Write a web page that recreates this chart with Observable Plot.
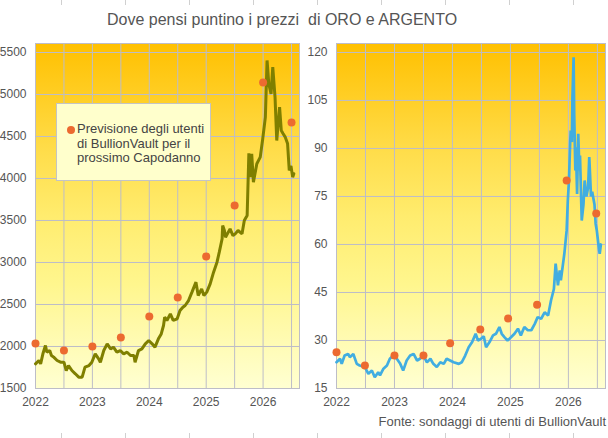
<!DOCTYPE html>
<html><head><meta charset="utf-8">
<script src="https://cdn.jsdelivr.net/npm/d3@7"></script>
<script src="https://cdn.jsdelivr.net/npm/@observablehq/plot@0.6"></script>
<style>
html,body{margin:0;padding:0;background:#fff;}
body{width:608px;height:438px;position:relative;overflow:hidden;font-family:"Liberation Sans",Arial,sans-serif;}
#title{position:absolute;left:107px;top:10px;font-size:16px;color:#555;white-space:pre;line-height:20px;}
#left{position:absolute;left:0;top:36px;}
#right{position:absolute;left:305px;top:36px;}
#legend{position:absolute;left:56px;top:103px;width:155px;height:78px;box-sizing:border-box;background:#FFFFCC;border:1px solid #c4c4c4;font-size:13px;color:#444;line-height:14.5px;padding:18px 0 0 20px;}
#legend .dot{position:absolute;left:10px;top:22px;width:8px;height:8px;border-radius:50%;background:#EC6A30;}
#caption{position:absolute;right:2px;top:414px;font-size:13px;color:#555;line-height:16px;}
.tk{position:absolute;width:1px;height:5px;background:#d0d0d0;}
</style>
</head><body>
<div id="title">Dove pensi puntino i prezzi  di ORO e ARGENTO</div>
<div id="left"></div>
<div id="right"></div>
<div id="legend"><span class="dot"></span>Previsione degli utenti<br>di BullionVault per il<br>prossimo Capodanno</div>
<div id="caption">Fonte: sondaggi di utenti di BullionVault</div>
<script>
// ---- data (decimal year, price) ----
const yearTicks = [2022, 2023, 2024, 2025, 2026];
const halfYearGrid = [2022, 2022.5, 2023, 2023.5, 2024, 2024.5, 2025, 2025.5, 2026, 2026.5];
const goldTicks = [1500, 2000, 2500, 3000, 3500, 4000, 4500, 5000, 5500];
const silverTicks = [15, 30, 45, 60, 75, 90, 105, 120];

const goldSeries = [[2022.0,1794],[2022.06,1833],[2022.09,1794],[2022.13,1913],[2022.175,2012],[2022.2,1932],[2022.25,1952],[2022.28,1893],[2022.32,1873],[2022.38,1833],[2022.44,1813],[2022.5,1813],[2022.54,1714],[2022.58,1773],[2022.64,1714],[2022.7,1675],[2022.76,1635],[2022.82,1635],[2022.87,1754],[2022.94,1773],[2022.99,1813],[2023.05,1913],[2023.11,1853],[2023.14,1813],[2023.2,1952],[2023.26,2032],[2023.32,1972],[2023.37,1992],[2023.43,1932],[2023.49,1952],[2023.55,1913],[2023.61,1932],[2023.67,1893],[2023.73,1893],[2023.75,1813],[2023.81,1952],[2023.87,1972],[2023.93,2032],[2023.99,2071],[2024.05,2032],[2024.1,1992],[2024.16,2091],[2024.21,2150],[2024.25,2250],[2024.27,2349],[2024.31,2310],[2024.37,2389],[2024.42,2310],[2024.49,2330],[2024.54,2428],[2024.59,2468],[2024.63,2488],[2024.69,2547],[2024.75,2647],[2024.82,2766],[2024.86,2607],[2024.92,2686],[2024.96,2607],[2025.01,2647],[2025.07,2746],[2025.13,2885],[2025.19,3004],[2025.23,3123],[2025.28,3282],[2025.29,3440],[2025.32,3381],[2025.34,3300],[2025.42,3400],[2025.47,3320],[2025.51,3341],[2025.56,3381],[2025.63,3341],[2025.67,3500],[2025.72,3560],[2025.75,4300],[2025.78,4016],[2025.8,4294],[2025.83,3956],[2025.89,4175],[2025.95,4254],[2025.99,4452],[2026.04,4730],[2026.07,5405],[2026.1,5130],[2026.14,5008],[2026.17,5325],[2026.21,4968],[2026.24,4452],[2026.29,4849],[2026.32,4571],[2026.35,4535],[2026.39,4492],[2026.43,4417],[2026.46,4095],[2026.49,4150],[2026.52,4016],[2026.54,4056]];

const silverSeries = [[2022.0,23.2],[2022.06,24.3],[2022.09,22.7],[2022.14,25.3],[2022.2,25.8],[2022.23,24.8],[2022.29,25.8],[2022.35,22.7],[2022.4,22.2],[2022.49,21.7],[2022.55,19.6],[2022.61,20.6],[2022.66,18.5],[2022.72,20.1],[2022.75,19.1],[2022.81,21.2],[2022.87,22.2],[2022.92,24.3],[2022.98,25.3],[2023.04,24.3],[2023.1,22.7],[2023.15,20.6],[2023.21,23.75],[2023.27,25.3],[2023.33,25.8],[2023.39,23.75],[2023.44,24.3],[2023.5,25.3],[2023.56,23.2],[2023.62,24.3],[2023.67,22.7],[2023.73,21.7],[2023.79,23.2],[2023.85,22.7],[2023.9,24.3],[2023.96,23.75],[2024.02,23.2],[2024.11,22.7],[2024.16,23.2],[2024.22,25.3],[2024.28,27.9],[2024.34,29.5],[2024.4,32.1],[2024.44,30],[2024.49,30.5],[2024.54,31.3],[2024.58,27.9],[2024.64,29.5],[2024.7,31.6],[2024.75,32.1],[2024.81,34.2],[2024.85,32.1],[2024.9,31.0],[2024.95,30],[2025.01,31],[2025.07,32.1],[2025.13,33.7],[2025.18,31.6],[2025.24,34.2],[2025.3,33.2],[2025.36,33.2],[2025.42,35.2],[2025.47,37.3],[2025.53,36.8],[2025.59,38.8],[2025.65,37.8],[2025.7,42.5],[2025.75,46.1],[2025.78,54],[2025.82,47.2],[2025.85,51.9],[2025.87,48.8],[2025.93,57.1],[2025.97,64.4],[2025.99,73.75],[2026.01,80],[2026.03,91.5],[2026.04,95.6],[2026.06,92],[2026.07,106],[2026.09,118.5],[2026.1,100.8],[2026.12,83.1],[2026.13,90.4],[2026.15,75.8],[2026.17,94.6],[2026.19,83.1],[2026.2,87.8],[2026.23,67.5],[2026.26,72.5],[2026.28,80],[2026.31,75],[2026.34,77.8],[2026.36,87.3],[2026.39,75],[2026.41,76.5],[2026.45,72.5],[2026.47,66.5],[2026.49,64.4],[2026.53,58.1],[2026.54,57.1],[2026.56,60]];

const goldForecastYear = [2022, 2022.5, 2023, 2023.5, 2024, 2024.5, 2025, 2025.5, 2026, 2026.5];
const goldForecast = [2036, 1952, 2000, 2107, 2357, 2583, 3071, 3678, 5143, 4667];
const silverForecastYear = [2022, 2022.49, 2023, 2023.5, 2023.96, 2024.48, 2024.96, 2025.46, 2025.97, 2026.48];
const silverForecast = [26.3, 22.2, 25.3, 25.3, 29.1, 33.4, 36.9, 41.2, 80, 69.7];

const gridColor = "#bdbdc8";

function gradientDefs(id) {
  return () => {
    const defs = d3.create("svg:defs");
    const g = defs.append("linearGradient").attr("id", id)
      .attr("x1", 0).attr("y1", 0).attr("x2", 0).attr("y2", 1);
    [[0, "#FFC000"], [0.3, "#FFDC48"], [0.5, "#FFEC6E"], [0.7, "#FFF68E"], [1, "#FFFFD2"]]
      .forEach(([o, c]) => g.append("stop").attr("offset", o).attr("stop-color", c));
    return defs.node();
  };
}

function panel({width, marginLeft, marginRight, yDomain, yTicks, series, stroke, strokeWidth, fx, fy, gid}) {
  return Plot.plot({
    width, height: 379,
    marginLeft, marginRight, marginTop: 7, marginBottom: 27,
    style: {fontFamily: "Liberation Sans, Arial, sans-serif", fontSize: "12px", color: "#555", background: "transparent", overflow: "visible"},
    x: {domain: [2022, 2026.64], ticks: yearTicks, tickFormat: "d", tickSize: 0, tickPadding: 9, label: null},
    y: {domain: yDomain, ticks: yTicks, tickFormat: "d", tickSize: 0, tickPadding: 9, label: null},
    marks: [
      gradientDefs(gid),
      Plot.frame({fill: `url(#${gid})`}),
      Plot.gridX(halfYearGrid, {stroke: gridColor, strokeOpacity: 1}),
      Plot.gridY(yTicks, {stroke: gridColor, strokeOpacity: 1}),
      Plot.frame({stroke: gridColor, strokeOpacity: 1}),
      Plot.line(series, {x: d => d[0], y: d => d[1], stroke, strokeWidth, strokeLinejoin: "miter"}),
      Plot.dot(fx.map((x, i) => [x, fy[i]]), {x: d => d[0], y: d => d[1], r: 4, fill: "#EC6A30", stroke: "none"})
    ]
  });
}

document.getElementById("left").append(panel({
  width: 305, marginLeft: 35, marginRight: 6,
  yDomain: [1500, 5607], yTicks: goldTicks, series: goldSeries,
  stroke: "#7f7f00", strokeWidth: 3, fx: goldForecastYear, fy: goldForecast, gid: "gradGold"
}));
document.getElementById("right").append(panel({
  width: 303, marginLeft: 31, marginRight: 3,
  yDomain: [15, 122.8], yTicks: silverTicks, series: silverSeries,
  stroke: "#41ade1", strokeWidth: 2.7, fx: silverForecastYear, fy: silverForecast, gid: "gradSilver"
}));

// faint edge tick marks seen along top and bottom edges
for (let k = 0; k < 9; k++) {
  for (const top of [0, 433]) {
    const t = document.createElement("div");
    t.className = "tk";
    t.style.left = (61 + 64 * k) + "px";
    t.style.top = top + "px";
    document.body.append(t);
  }
}
</script>
</body></html>
